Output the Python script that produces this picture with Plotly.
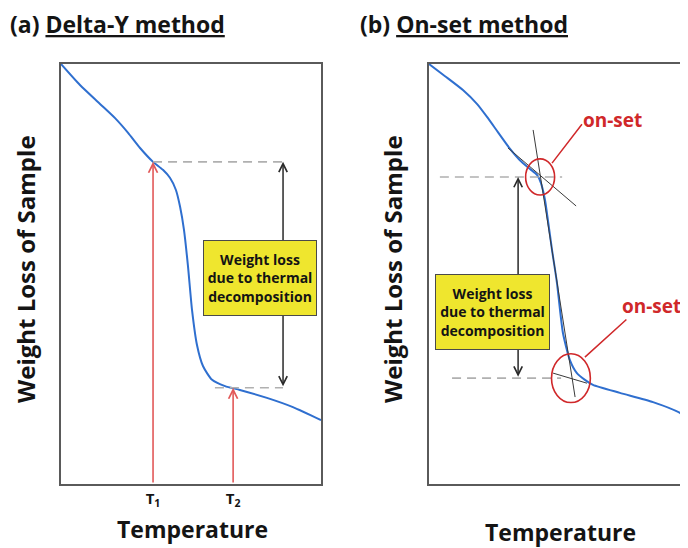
import plotly.graph_objects as go

# page body has an 8px default margin -> figure is 680x540 placed at (8,8)
OFF = 8
W, H = 680, 540

# ---------------- data (schematic, arbitrary units 0-100) ----------------
# Panel (a): Delta-Y method
temp_a = [0, 7.3, 15.0, 20.8, 25.8, 30.4, 35.4, 39.2, 41.9, 44.2, 45.8, 47.3, 48.8, 50.4,
          52.3, 54.6, 58.1, 63.1, 68.8, 79.2, 89.2, 100]
weight_a = [100, 95.0, 90.5, 87.1, 83.6, 80.0, 76.7, 74.8, 72.9, 70.0, 66.0, 60.5, 52.1, 41.4,
            33.1, 28.1, 24.8, 23.3, 22.4, 20.5, 18.3, 15.2]
T_vals = [35.4, 66.2]
T_labels = ["T<sub>1</sub>", "T<sub>2</sub>"]
W_at_T = [76.7, 22.9]
dy_arrow_x_a = 85.4
dash_a_start = [35.4, 59.2]

# Panel (b): On-set method
temp_b = [0, 6.2, 13.1, 18.5, 22.4, 26.6, 31.3, 35.1, 39.0, 41.7, 43.2, 44.8, 45.9, 47.5,
          49.4, 51.7, 54.4, 57.1, 60.2, 63.3, 73.7, 86.5, 96.9, 100]
weight_b = [100, 97.1, 93.8, 90.5, 87.4, 83.8, 79.8, 77.1, 75.0, 73.6, 71.7, 67.6, 62.9, 55.7,
            47.9, 36.0, 29.5, 26.4, 24.8, 23.6, 21.7, 19.5, 16.9, 15.2]
tan1_x, tan1_y = [30.5, 56.8], [80.0, 66.2]
tan2_x, tan2_y = [40.2, 56.4], [84.3, 20.7]
tan3_x, tan3_y = [47.9, 61.0], [26.4, 24.0]
onset_x = [42.9, 54.8]
onset_y = [73.1, 25.2]
onset_rx = [5.6, 7.5]
onset_ry = [4.3, 5.8]
dash_b_x0 = [4.2, 8.9]
dash_b_x1 = [51.4, 51.0]
dy_arrow_x_b = 34.4

# ---------------- styling ----------------
BLUE = "#2f6fcf"
RED_ARROW = "#e25a5a"
RED = "#d0282a"
DASH = "#b0b0b0"
AXC = "#5a5a5a"
YEL = "#efe62e"
TXT = "#141414"
FONT = "Open Sans"


def px_x(p):
    return (p - OFF) / W


def px_y(p):
    return 1 - (p - OFF) / H


fig = go.Figure()

# curves
fig.add_trace(go.Scatter(x=temp_a, y=weight_a, mode="lines", xaxis="x", yaxis="y",
                         line=dict(color=BLUE, width=2, shape="spline", smoothing=0.6)))
fig.add_trace(go.Scatter(x=temp_b, y=weight_b, mode="lines", xaxis="x2", yaxis="y2",
                         line=dict(color=BLUE, width=2, shape="spline", smoothing=0.6)))

# dashed guide lines (a)
for xs, yv in zip(dash_a_start, W_at_T):
    fig.add_trace(go.Scatter(x=[xs, dy_arrow_x_a], y=[yv, yv], mode="lines", xaxis="x", yaxis="y",
                             line=dict(color=DASH, width=1.6, dash="9px,6px")))
# dashed guide lines (b)
for x0, x1, yv in zip(dash_b_x0, dash_b_x1, onset_y):
    fig.add_trace(go.Scatter(x=[x0, x1], y=[yv, yv], mode="lines", xaxis="x2", yaxis="y2",
                             line=dict(color=DASH, width=1.6, dash="9px,6px")))

# tangent lines (b)
for tx, ty in [(tan1_x, tan1_y), (tan2_x, tan2_y), (tan3_x, tan3_y)]:
    fig.add_trace(go.Scatter(x=tx, y=ty, mode="lines", xaxis="x2", yaxis="y2",
                             line=dict(color="#3a3a3a", width=1)))

# on-set ellipses
for cx, cy, rx, ry in zip(onset_x, onset_y, onset_rx, onset_ry):
    fig.add_shape(type="circle", xref="x2", yref="y2", x0=cx - rx, x1=cx + rx,
                  y0=cy - ry, y1=cy + ry, line=dict(color=RED, width=1.6))

annotations = []

# red arrows (a)
for tv, wv in zip(T_vals, W_at_T):
    annotations.append(dict(x=tv, y=wv, ax=tv, ay=0, xref="x", yref="y", axref="x", ayref="y",
                            text="", showarrow=True, arrowhead=5, arrowsize=1.1,
                            arrowwidth=1.6, arrowcolor=RED_ARROW, standoff=0))

# black double arrows
annotations.append(dict(x=dy_arrow_x_a, y=W_at_T[0], ax=dy_arrow_x_a, ay=W_at_T[1],
                        xref="x", yref="y", axref="x", ayref="y", text="", showarrow=True,
                        arrowhead=5, startarrowhead=5, arrowside="end+start", arrowsize=1.1,
                        startarrowsize=1.1, arrowwidth=1.5, arrowcolor="#2a2a2a", standoff=0,
                        startstandoff=0))
annotations.append(dict(x=dy_arrow_x_b, y=onset_y[0], ax=dy_arrow_x_b, ay=onset_y[1],
                        xref="x2", yref="y2", axref="x2", ayref="y2", text="", showarrow=True,
                        arrowhead=5, startarrowhead=5, arrowside="end+start", arrowsize=1.1,
                        startarrowsize=1.1, arrowwidth=1.5, arrowcolor="#2a2a2a", standoff=0,
                        startstandoff=0))

box_text = "<b>Weight loss<br>due to thermal<br>decomposition</b>"
annotations.append(dict(x=76.5, y=49.0, xref="x", yref="y", text=box_text, showarrow=False,
                        bgcolor=YEL, bordercolor="#4a4a4a", borderwidth=1, borderpad=0,
                        width=112, height=74, font=dict(family=FONT, size=14, color=TXT)))
annotations.append(dict(x=24.5, y=41.0, xref="x2", yref="y2", text=box_text, showarrow=False,
                        bgcolor=YEL, bordercolor="#4a4a4a", borderwidth=1, borderpad=0,
                        width=113, height=74, font=dict(family=FONT, size=14, color=TXT)))

# on-set labels with leader lines
annotations.append(dict(x=47.5, y=76.4, ax=59.5, ay=86.0, xref="x2", yref="y2", axref="x2", ayref="y2",
                        text="", showarrow=True, arrowhead=0, arrowwidth=1.5, arrowcolor=RED))
annotations.append(dict(x=60.2, y=30.2, ax=76.8, ay=39.5, xref="x2", yref="y2", axref="x2", ayref="y2",
                        text="", showarrow=True, arrowhead=0, arrowwidth=1.5, arrowcolor=RED))
annotations.append(dict(x=70.9, y=86.7, xref="x2", yref="y2", text="<b>on-set</b>", showarrow=False,
                        font=dict(family=FONT, size=19, color=RED)))
annotations.append(dict(x=85.9, y=42.4, xref="x2", yref="y2", text="<b>on-set</b>", showarrow=False,
                        font=dict(family=FONT, size=19, color=RED)))

# titles
annotations.append(dict(x=px_x(8), y=px_y(24), xref="paper", yref="paper", xanchor="left",
                        yanchor="middle", text="<b>(a) <u>Delta-Y method</u></b>", showarrow=False,
                        font=dict(family=FONT, size=23, color=TXT)))
annotations.append(dict(x=px_x(358), y=px_y(24), xref="paper", yref="paper", xanchor="left",
                        yanchor="middle", text="<b>(b) <u>On-set method</u></b>", showarrow=False,
                        font=dict(family=FONT, size=23, color=TXT)))

# axis titles
for xc in [25, 392]:
    annotations.append(dict(x=px_x(xc), y=px_y(269), xref="paper", yref="paper",
                            xanchor="center", yanchor="middle",
                            text="<b>Weight Loss of Sample</b>", textangle=-90, showarrow=False,
                            font=dict(family=FONT, size=24, color=TXT)))
annotations.append(dict(x=px_x(192), y=px_y(529), xref="paper", yref="paper",
                        xanchor="center", yanchor="middle",
                        text="<b>Temperature</b>", showarrow=False,
                        font=dict(family=FONT, size=23, color=TXT)))
annotations.append(dict(x=px_x(560), y=px_y(532), xref="paper", yref="paper",
                        xanchor="center", yanchor="middle",
                        text="<b>Temperature</b>", showarrow=False,
                        font=dict(family=FONT, size=23, color=TXT)))

ydom = [px_y(484), px_y(64)]
common_ax = dict(range=[0, 100], showgrid=False, zeroline=False, showline=True,
                 linecolor=AXC, linewidth=1.5, fixedrange=True)

fig.update_layout(
    width=W, height=H, margin=dict(l=0, r=0, t=0, b=0),
    paper_bgcolor="white", plot_bgcolor="white", showlegend=False,
    xaxis=dict(domain=[px_x(61), px_x(321)], anchor="y", mirror=True,
               tickmode="array", tickvals=T_vals, ticktext=["<b>%s</b>" % t for t in T_labels],
               ticks="", tickfont=dict(family=FONT, size=15, color=TXT), **common_ax),
    yaxis=dict(domain=ydom, anchor="x", mirror=True, showticklabels=False, ticks="", **common_ax),
    xaxis2=dict(domain=[px_x(429), 1.0], anchor="y2", mirror=True, showticklabels=False, ticks="",
                **common_ax),
    yaxis2=dict(domain=ydom, anchor="x2", mirror=False, showticklabels=False, ticks="", **common_ax),
    annotations=annotations,
)

fig.write_html("out.html")
